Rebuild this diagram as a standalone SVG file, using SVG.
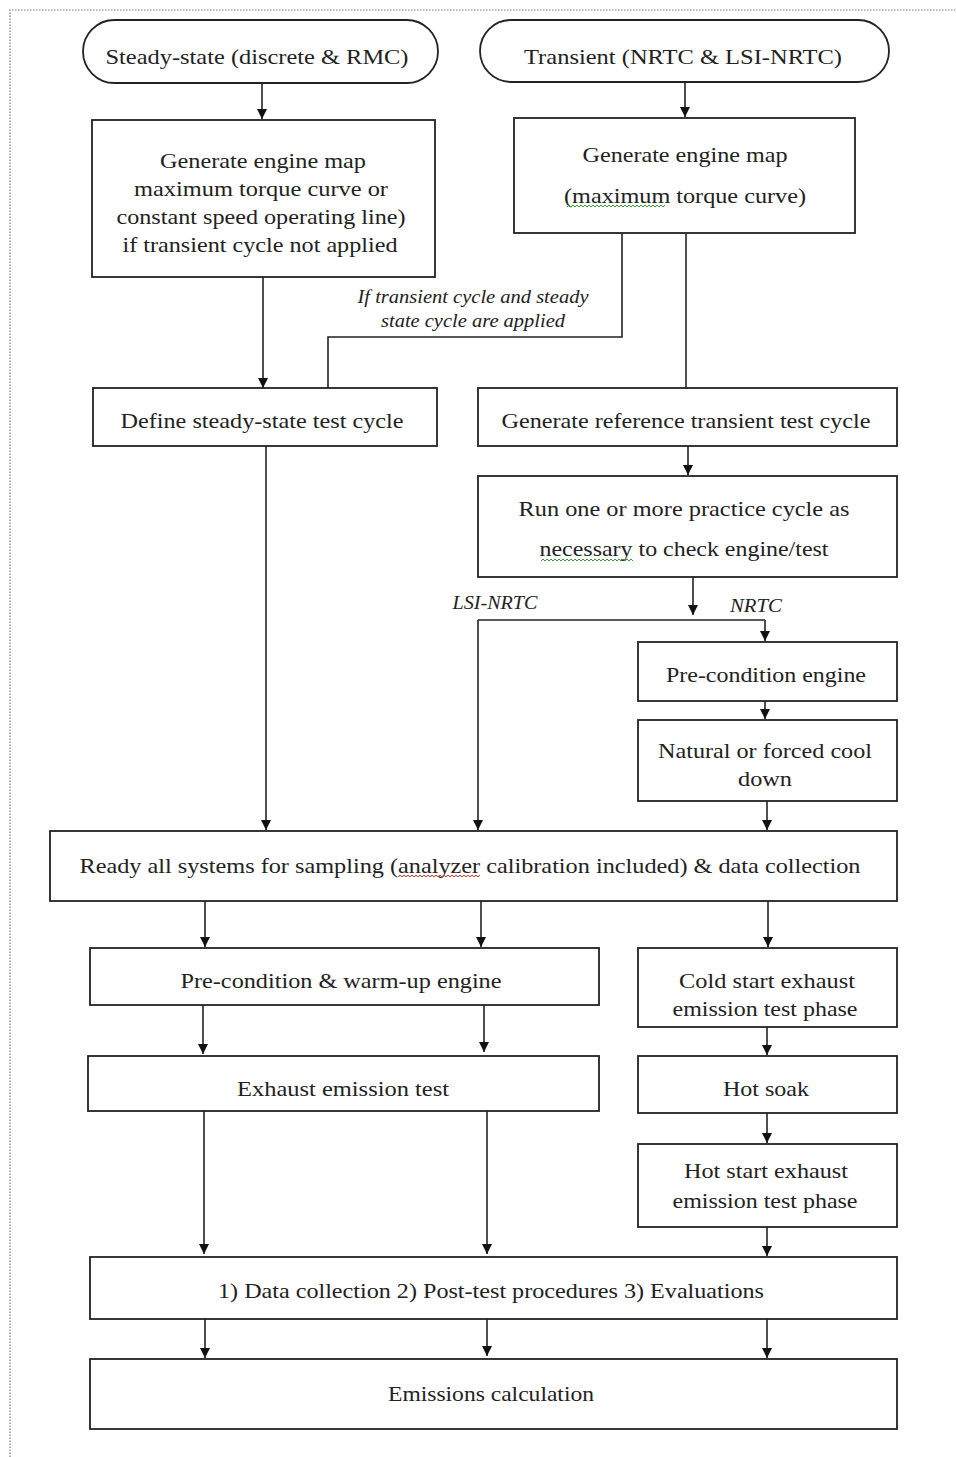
<svg xmlns="http://www.w3.org/2000/svg" width="956" height="1457" viewBox="0 0 956 1457">
<defs>
<marker id="arr" markerUnits="userSpaceOnUse" markerWidth="10" markerHeight="10" viewBox="0 0 10 10" refX="10" refY="5" orient="auto">
<path d="M0,0 L10,5 L0,10 Z" fill="#111"/>
</marker>
<style>
.b{fill:#fff;stroke:#222;stroke-width:1.8}
.t{font-family:"Liberation Serif","Times New Roman",serif;font-size:22px;fill:#222;text-anchor:middle}
.i{font-family:"Liberation Serif","Times New Roman",serif;font-size:18px;font-style:italic;fill:#222;text-anchor:middle}
.c{fill:none;stroke:#222;stroke-width:1.6}
.a{fill:none;stroke:#222;stroke-width:1.6;marker-end:url(#arr)}
.wg{fill:none;stroke:#3a9a3a;stroke-width:1}
.wr{fill:none;stroke:#d33;stroke-width:1}
</style>
</defs>
<rect width="956" height="1457" fill="#fff"/>
<g id="border">
<path d="M10,1457 V10 H956" fill="none" stroke="#777" stroke-width="1.2" stroke-dasharray="1.5,1.5"/>
</g>
<g id="connectors">
<path class="a" d="M262,83 V119"/>
<path class="a" d="M685,82 V117"/>
<path class="a" d="M263,277 V388"/>
<path class="c" d="M622,233 V337 H328 V388"/>
<path class="c" d="M686,233 V388"/>
<path class="a" d="M688,446 V475"/>
<path class="a" d="M693,577 V615"/>
<path class="c" d="M478,620 H765"/>
<path class="a" d="M765,620 V641"/>
<path class="a" d="M478,620 V830"/>
<path class="a" d="M266,446 V830"/>
<path class="a" d="M765,701 V719"/>
<path class="a" d="M767,801 V830"/>
<path class="a" d="M205,901 V947"/>
<path class="a" d="M481,901 V947"/>
<path class="a" d="M768,901 V947"/>
<path class="a" d="M203,1005 V1054"/>
<path class="a" d="M484,1005 V1052"/>
<path class="a" d="M767,1027 V1055"/>
<path class="a" d="M767,1113 V1143"/>
<path class="a" d="M204,1111 V1254"/>
<path class="a" d="M487,1111 V1254"/>
<path class="a" d="M767,1227 V1256"/>
<path class="a" d="M205,1319 V1358"/>
<path class="a" d="M487,1319 V1356"/>
<path class="a" d="M767,1319 V1358"/>
<text class="i" x="473" y="303" textLength="231" lengthAdjust="spacingAndGlyphs">If transient cycle and steady</text>
<text class="i" x="473" y="327" textLength="184" lengthAdjust="spacingAndGlyphs">state cycle are applied</text>
<text class="i" x="495" y="609" textLength="85" lengthAdjust="spacingAndGlyphs">LSI-NRTC</text>
<text class="i" x="756" y="612" textLength="52" lengthAdjust="spacingAndGlyphs">NRTC</text>
</g>
<g id="steady">
<rect class="b" x="83" y="20" width="355" height="63" rx="31.5"/>
<text class="t" x="257" y="64" textLength="303" lengthAdjust="spacingAndGlyphs">Steady-state (discrete &amp; RMC)</text>
</g>
<g id="transient">
<rect class="b" x="480" y="20" width="409" height="62" rx="31"/>
<text class="t" x="683" y="64" textLength="318" lengthAdjust="spacingAndGlyphs">Transient (NRTC &amp; LSI-NRTC)</text>
</g>
<g id="map-steady">
<rect class="b" x="92" y="120" width="343" height="157"/>
<text class="t" x="263" y="168" textLength="206" lengthAdjust="spacingAndGlyphs">Generate engine map</text>
<text class="t" x="261" y="196" textLength="254" lengthAdjust="spacingAndGlyphs">maximum torque curve or</text>
<text class="t" x="261" y="224" textLength="289" lengthAdjust="spacingAndGlyphs">constant speed operating line)</text>
<text class="t" x="260" y="252" textLength="275" lengthAdjust="spacingAndGlyphs">if transient cycle not applied</text>
</g>
<g id="map-transient">
<rect class="b" x="514" y="118" width="341" height="115"/>
<text class="t" x="685" y="162" textLength="205" lengthAdjust="spacingAndGlyphs">Generate engine map</text>
<text class="t" x="685" y="203" textLength="242" lengthAdjust="spacingAndGlyphs">(maximum torque curve)</text>
<path class="wg" d="M567,207 l2,-2 l2,2 l2,-2 l2,2 l2,-2 l2,2 l2,-2 l2,2 l2,-2 l2,2 l2,-2 l2,2 l2,-2 l2,2 l2,-2 l2,2 l2,-2 l2,2 l2,-2 l2,2 l2,-2 l2,2 l2,-2 l2,2 l2,-2 l2,2 l2,-2 l2,2 l2,-2 l2,2 l2,-2 l2,2 l2,-2 l2,2 l2,-2 l2,2 l2,-2 l2,2 l2,-2 l2,2 l2,-2 l2,2 l2,-2 l2,2 l2,-2 l2,2 l2,-2 l2,2 l2,-2"/>
</g>
<g id="define">
<rect class="b" x="93" y="388" width="344" height="58"/>
<text class="t" x="262" y="428" textLength="283" lengthAdjust="spacingAndGlyphs">Define steady-state test cycle</text>
</g>
<g id="reference">
<rect class="b" x="478" y="388" width="419" height="58"/>
<text class="t" x="686" y="428" textLength="369" lengthAdjust="spacingAndGlyphs">Generate reference transient test cycle</text>
</g>
<g id="practice">
<rect class="b" x="478" y="476" width="419" height="101"/>
<text class="t" x="684" y="516" textLength="331" lengthAdjust="spacingAndGlyphs">Run one or more practice cycle as</text>
<text class="t" x="684" y="556" textLength="289" lengthAdjust="spacingAndGlyphs">necessary to check engine/test</text>
<path class="wg" d="M541,561 l2,-2 l2,2 l2,-2 l2,2 l2,-2 l2,2 l2,-2 l2,2 l2,-2 l2,2 l2,-2 l2,2 l2,-2 l2,2 l2,-2 l2,2 l2,-2 l2,2 l2,-2 l2,2 l2,-2 l2,2 l2,-2 l2,2 l2,-2 l2,2 l2,-2 l2,2 l2,-2 l2,2 l2,-2 l2,2 l2,-2 l2,2 l2,-2 l2,2 l2,-2 l2,2 l2,-2 l2,2 l2,-2 l2,2 l2,-2 l2,2 l2,-2 l2,2"/>
</g>
<g id="precond">
<rect class="b" x="638" y="642" width="259" height="59"/>
<text class="t" x="766" y="682" textLength="200" lengthAdjust="spacingAndGlyphs">Pre-condition engine</text>
</g>
<g id="cooldown">
<rect class="b" x="638" y="720" width="259" height="81"/>
<text class="t" x="765" y="758" textLength="214" lengthAdjust="spacingAndGlyphs">Natural or forced cool</text>
<text class="t" x="765" y="786" textLength="54" lengthAdjust="spacingAndGlyphs">down</text>
</g>
<g id="ready">
<rect class="b" x="50" y="831" width="847" height="70"/>
<text class="t" x="470" y="873" textLength="781" lengthAdjust="spacingAndGlyphs">Ready all systems for sampling (analyzer calibration included) &amp; data collection</text>
<path class="wr" d="M398,877 l2,-2 l2,2 l2,-2 l2,2 l2,-2 l2,2 l2,-2 l2,2 l2,-2 l2,2 l2,-2 l2,2 l2,-2 l2,2 l2,-2 l2,2 l2,-2 l2,2 l2,-2 l2,2 l2,-2 l2,2 l2,-2 l2,2 l2,-2 l2,2 l2,-2 l2,2 l2,-2 l2,2 l2,-2 l2,2 l2,-2 l2,2 l2,-2 l2,2 l2,-2 l2,2 l2,-2 l2,2 l2,-2"/>
</g>
<g id="warmup">
<rect class="b" x="90" y="948" width="509" height="57"/>
<text class="t" x="341" y="988" textLength="321" lengthAdjust="spacingAndGlyphs">Pre-condition &amp; warm-up engine</text>
</g>
<g id="coldstart">
<rect class="b" x="638" y="948" width="259" height="79"/>
<text class="t" x="767" y="988" textLength="176" lengthAdjust="spacingAndGlyphs">Cold start exhaust</text>
<text class="t" x="765" y="1016" textLength="185" lengthAdjust="spacingAndGlyphs">emission test phase</text>
</g>
<g id="exhaust">
<rect class="b" x="88" y="1056" width="511" height="55"/>
<text class="t" x="343" y="1096" textLength="212" lengthAdjust="spacingAndGlyphs">Exhaust emission test</text>
</g>
<g id="hotsoak">
<rect class="b" x="638" y="1056" width="259" height="57"/>
<text class="t" x="766" y="1096" textLength="86" lengthAdjust="spacingAndGlyphs">Hot soak</text>
</g>
<g id="hotstart">
<rect class="b" x="638" y="1144" width="259" height="83"/>
<text class="t" x="766" y="1178" textLength="164" lengthAdjust="spacingAndGlyphs">Hot start exhaust</text>
<text class="t" x="765" y="1208" textLength="185" lengthAdjust="spacingAndGlyphs">emission test phase</text>
</g>
<g id="datacollection">
<rect class="b" x="90" y="1257" width="807" height="62"/>
<text class="t" x="491" y="1298" textLength="546" lengthAdjust="spacingAndGlyphs">1) Data collection 2) Post-test procedures 3) Evaluations</text>
</g>
<g id="emissions">
<rect class="b" x="90" y="1359" width="807" height="70"/>
<text class="t" x="491" y="1401" textLength="206" lengthAdjust="spacingAndGlyphs">Emissions calculation</text>
</g>
</svg>
